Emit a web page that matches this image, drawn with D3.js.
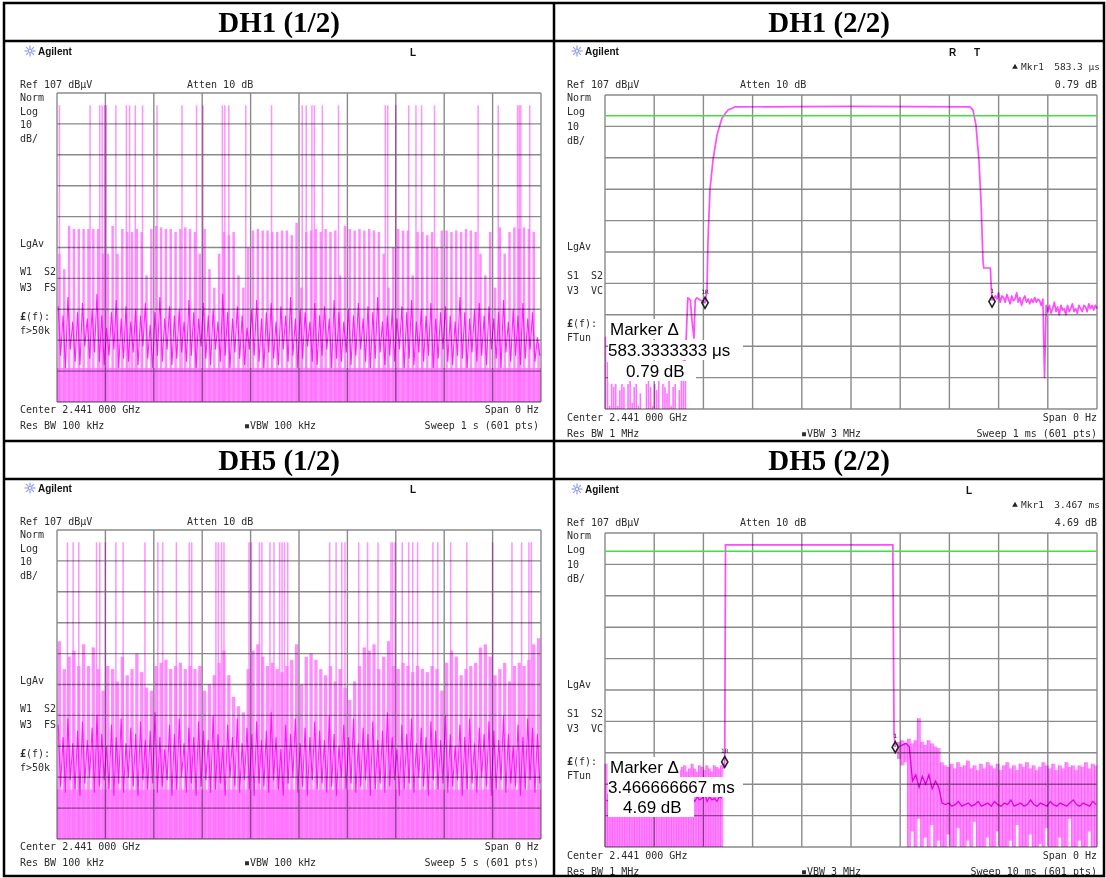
<!DOCTYPE html>
<html><head><meta charset="utf-8">
<script src="https://cdn.jsdelivr.net/npm/d3@7"></script>
<style>
body{margin:0;background:#fff;}
svg{display:block;}
.mono{font-family:"DejaVu Sans Mono",monospace;font-size:10px;fill:#2b2b2b;white-space:pre;}
.title{font-family:"Liberation Serif","Times New Roman",serif;font-weight:bold;font-size:29px;fill:#000;}
.agl{font-family:"Liberation Sans",Arial,sans-serif;font-weight:bold;font-size:10px;fill:#111;}
.big{font-family:"Liberation Sans",Arial,sans-serif;font-size:17px;fill:#000;}
</style></head><body>
<script>
// ---------------- DATA ----------------
const titles = ["DH1 (1/2)", "DH1 (2/2)", "DH5 (1/2)", "DH5 (2/2)"];
const refLevel = 107, dbPerDiv = 10, nDiv = 10, lastPoint = 600;

// DH1 (1/2): sweep 1 s, tall hop spikes (sweep point index)
const dh1aSpikes = [3,41,53,56,59,61,73,86,90,97,106,124,155,173,181,205,208,213,234,266,304,309,316,319,329,349,407,410,420,436,445,452,468,522,547,571,573,575,586];
const dh1aSpikeDb = 103;
// peak level reached in each 6-point bin
const dh1aPeaks = [55,50,64,63,63,63,63,63,63,55, 55,64,55,63,62,62,63,62,48,63,
 64,63.5,63,63,62,63,63.5,63,62,55, 63,50,44,55,62,61,62,48,44,57,
 62.5,63,62.5,62.5,62,62,62.5,62.5,61,65, 44,62,62.5,63,62,63,62,62.5,48,64,
 63,62.5,63,62.5,63,62.5,62,55,44,57, 63,62.5,62.5,48,62,62,61,62,57,62.5,
 62.5,62,62.5,62,63,62.5,62,55,48,62, 44,63.5,55,62,63.5,63,63.5,63,62,26];
// low part of the trace (alternating high / low readings)
const dh1aTrace = [38,22,35,18,41,24,33,20,36,19,39,25,34,21,37,23,42,20,35,19,
 31,22,36,24,40,18,34,21,38,20,33,23,37,19,35,25,39,21,32,18,
 36,22,41,20,34,24,38,19,35,21,37,23,33,20,40,22,36,18,34,25,
 39,21,35,19,37,24,33,20,42,22,36,18,34,23,38,21,35,19,31,24,
 37,22,40,20,34,18,36,23,39,21,33,19,38,24,35,20,41,22,34,18,
 37,21,36,25,33,20,39,19,35,22,38,24,34,18,40,21,36,20,33,23,
 37,19,35,22,39,24,34,20,38,18,36,21,41,23,33,19,35,22,37,20,
 34,24,38,18,36,21,40,19,33,23,37,20,35,22,39,18,34,21,36,24,
 38,20,35,19,33,22,41,21,36,18,34,23,37,20,39,22,35,19,38,24,
 34,21,36,18,40,23,33,20,37,22,35,19,39,21,34,24,36,20,28,22];
const dh1aFloorDb = 18;

// DH5 (1/2): sweep 5 s
const dh5aSpikes = [13,20,27,49,53,60,73,82,109,125,131,148,164,167,197,200,204,207,238,241,251,254,264,269,276,279,282,286,338,346,353,357,374,385,398,414,416,419,428,436,441,447,466,472,488,508,540,564,576,585,588];
const dh5aSpikeDb = 103;
const dh5aPeaks = [71,62,66,68,63,70,63,69,62,55, 63,62,58,66,60,62,67,61,56,55,
 63,64,65,62,63,64,62,63,62,63, 55,57,60,64,68,60,53,50,48,62,
 68,70,66,63,64,62,61,63,65,70, 57,66,67,65,62,60,63,58,62,56,
 52,58,63,69,68,70,62,66,71,63, 62,64,63,61,63,62,61,63,62,55,
 64,68,66,60,62,63,64,69,70,66, 60,62,64,58,63,64,63,65,70,72];
const dh5aTrace = [44,24,40,22,46,26,38,23,42,21,45,25,39,27,43,22,47,24,41,26,
 37,23,44,21,40,25,46,22,38,27,43,24,41,21,45,26,39,23,42,25,
 48,22,40,24,36,26,44,21,41,23,46,27,38,22,43,25,40,21,45,24,
 42,26,39,22,47,23,41,25,37,21,44,27,40,24,46,22,38,26,43,23,
 41,21,45,25,39,24,42,22,48,26,40,23,36,21,44,25,41,27,46,22,
 38,24,43,21,40,26,45,23,42,25,39,22,47,24,41,21,37,27,44,23,
 40,25,46,22,38,24,43,26,41,21,45,23,39,25,42,22,48,24,40,26,
 36,21,44,23,41,25,46,22,38,27,43,24,40,21,45,26,42,23,39,25,
 47,22,41,24,37,26,44,21,40,23,46,25,38,22,43,27,41,24,45,21,
 42,23,39,26,47,22,41,25,37,24,44,21,40,23,46,26,43,22,41,25];
const dh5aFloorDb = 23;

// DH1 (2/2): sweep 1 ms, single slot burst
const dh1bNoise = [30,22,8,15,14,15,8,13,15,14,7,15,16,9,14,15,8,12,7,7,15,16,14,8,15,13,16,7,15,14,12,16,8,14,15,7,13,18,26,20]; // every 2.5 points from 0
const dh1bTraceIdx = [96,99,101,104,106,108.5,110,112,116,119.5,122,124.4,125.6,128,131.7,136.6,142.7,150,158.5,300,445,448.8,452.4,456,458.5,461,462,470,471,472];
const dh1bTraceDb  = [16,29.6,42.4,41.7,35.3,29.6,41.7,42.4,41.7,41.2,40.8,44.9,60.8,76.7,86.3,94.3,99.7,102.2,103.2,103.4,103.2,102.2,97.4,86.3,73.6,53.8,51.9,51.9,46,41.7];
const dh1bTail = [43,42,44,41,43,42.5,41,43.5,42,40.5, 43,41.5,42,44,41,42.5,40,42,43,41,
 42,40.5,42,41,42.5,41,42,41.5,40,42, 17,40,38,40,37.5,39,41,38,39.5,37,
 40,38.5,39,37,40,38,39,40.5,38,39, 37.5,40,39,38,40,39.5,38,40.5,39,40, 38.5,40,39]; // every 2 points from 476
const dh1bMarkers = [122, 472];
const dh1bDisplayLine = 100.4;

// DH5 (2/2): sweep 10 ms, 5-slot burst
const dh5bLeftTop = [33.5,24,26,29,27,30,28,26,29,30, 27,28,30,29,26,28,30,27,29,28,
 26,29,30,28,27,29,28,30,32,33, 31.5,32.5,33,31,32,33.5,32,31,33,32.5, 31.5,33,32,31,33,32.5,32,33]; // every 3 points from 0
const dh5bLeftAvg = [22,21.5,22.5,21,23,22,21.5,22.5,22,21, 23,22.5,21.5,22,21,22.5,23,22,21.5,22,
 22.5,21,22,23,21.5,22,22.5,21,22,23, 22.5,21.5,23,22,24,22.5,21.5,23,22,22.5, 24,21.5,23,22,22.5,21.5,23,22.5];
const dh5bTraceIdx = [144,146,147,351,352.5,354];
const dh5bTraceDb  = [32,34.1,103.2,103.2,42.7,38.8];
const dh5bRightTop = [40.5,41,40,41.5,40,41,48,40.5,39.5,41, 40,39,38.5,34,33,32.5,33.5,32,34,32.5,
 33,34.5,32,33,31.5,33.5,32,34,33,32, 33.5,31.5,33,34,32,33,31.5,33.5,32.5,34,
 32,33,31.5,32.5,34,33,32,33.5,31.5,33, 32,34,32.5,33,31.5,33,32.5,34,32,33.5, 33]; // every 4 points from 357
const dh5bRightBottom = [35,33,34,7,12,7,16,7,10,7, 14,7,9,7,7,11,7,7,13,7, 7,9,7,15,7,7,7,10,7,7,
 12,7,7,7,9,7,14,7,7,7, 11,7,7,8,7,13,7,7,7,10, 7,7,16,7,7,9,7,7,12,7, 7];
const dh5bRightAvg = [39,39.5,40,39,28,30,26,29.5,27,30, 25.5,28,26,21,20.5,21,20,20.5,21.5,20,
 20.5,21,20,20.5,21.5,20,20.5,21,20,21.5, 20.5,20,21,20.5,22,20,20.5,21,20,20.5,
 22,20.5,20,21,20.5,20,21.5,20.5,20,21, 20.5,20,21,22,20.5,20,21,20.5,20,21.5, 20.5];
const dh5bMarkers = [146, 354];
const dh5bDisplayLine = 101.2;

// ---------------- DRAW ----------------
const svg = d3.select("body").append("svg").attr("width",1106).attr("height",878);

const PINK = "#ff8cff", BAR = "#ff70ff", MAG = "#ff00ff";

function screenFrame(g, o){
  const xs = d3.scaleLinear().domain([0,lastPoint]).range([o.gx,o.gx+o.gw]);
  const ys = d3.scaleLinear().domain([refLevel-dbPerDiv*nDiv, refLevel]).range([o.gy+o.gh,o.gy]).clamp(true);
  return {xs,ys};
}
function drawGrid(g, xs, ys){
  const gg = g.append("g").style("mix-blend-mode","multiply");
  const xt = d3.range(0, lastPoint+1, lastPoint/nDiv);
  const yt = d3.range(0, nDiv+1).map(k=>refLevel-k*dbPerDiv);
  gg.selectAll(".vx").data(xt).join("line").attr("x1",d=>xs(d)).attr("x2",d=>xs(d))
    .attr("y1",ys(refLevel)).attr("y2",ys(refLevel-dbPerDiv*nDiv)).attr("stroke","#8a8a8a").attr("stroke-width",1.4);
  gg.selectAll(".hy").data(yt).join("line").attr("y1",d=>ys(d)).attr("y2",d=>ys(d))
    .attr("x1",xs(0)).attr("x2",xs(lastPoint)).attr("stroke","#8a8a8a").attr("stroke-width",1.4);
}
function mono(g,x,y,s,anchor){
  return g.append("text").attr("class","mono").attr("x",x).attr("y",y).attr("dy","0.35em").attr("text-anchor",anchor||"start").text(s);
}
function logo(g,x,y){
  const lg = g.append("g").attr("transform",`translate(${x},${y})`);
  d3.range(8).forEach(k=>{
    const a = k*Math.PI/4;
    lg.append("line").attr("x1",Math.cos(a)*2).attr("y1",Math.sin(a)*2).attr("x2",Math.cos(a)*5.5).attr("y2",Math.sin(a)*5.5)
      .attr("stroke","#8f9fe8").attr("stroke-width",1.2);
  });
  lg.append("circle").attr("r",1.6).attr("fill","none").attr("stroke","#8f9fe8").attr("stroke-width",1);
}
function header(g, x0, y0){
  logo(g, x0+10, y0+51);
  g.append("text").attr("class","agl").attr("x",x0+18).attr("y",y0+51).attr("dy","0.35em").text("Agilent");
}
function leftLabels(g,x,ys,labels){
  labels.forEach((s,i)=>{
    if(s.startsWith("£")){
      const t = g.append("text").attr("class","mono").attr("x",x).attr("y",ys[i]).attr("dy","0.35em");
      t.append("tspan").attr("font-weight","bold").text("£");
      t.append("tspan").text(s.slice(1));
    } else mono(g,x,ys[i],s);
  });
}
function noisePanel(g, o, spikes, spikeDb, peaks, trace, floorDb, barW){
  const {xs,ys} = screenFrame(g,o);
  const bot = ys(refLevel-dbPerDiv*nDiv);
  g.append("rect").attr("x",xs(0)).attr("width",xs(lastPoint)-xs(0)).attr("y",ys(floorDb)).attr("height",bot-ys(floorDb)).attr("fill",PINK);
  g.append("g").selectAll("line").data(peaks).join("line")
    .attr("x1",(d,i)=>xs(i*6+3)).attr("x2",(d,i)=>xs(i*6+3)).attr("y1",bot).attr("y2",d=>ys(d))
    .attr("stroke",BAR).attr("stroke-opacity",0.8).attr("stroke-width",barW);
  g.append("g").selectAll("line").data(spikes).join("line")
    .attr("x1",d=>xs(d)).attr("x2",d=>xs(d)).attr("y1",bot).attr("y2",ys(spikeDb))
    .attr("stroke",BAR).attr("stroke-opacity",0.75).attr("stroke-width",1.5);
  const line = d3.line().x((d,i)=>xs(i*3+1.5)).y(d=>ys(d));
  g.append("path").attr("d",line(trace)).attr("fill","none").attr("stroke",MAG).attr("stroke-opacity",0.85).attr("stroke-width",1.1);
  drawGrid(g,xs,ys);
}

// ---- titles
titles.forEach((t,i)=>{
  svg.append("text").attr("class","title").attr("x",i%2?829:279).attr("y",i<2?22:460)
    .attr("dy","0.35em").attr("text-anchor","middle").text(t);
});

// ---- left panels
function leftPanel(dy, spikes, spikeDb, peaks, trace, floorDb, barW, sweep){
  const g = svg.append("g");
  const o = {gx:57, gy:93+dy, gw:484, gh:309};
  header(g, 20, dy);
  g.append("text").attr("class","agl").attr("x",410).attr("y",52+dy).attr("dy","0.35em").attr("font-size","11px").text("L");
  mono(g,20,84+dy,"Ref 107 dBμV");
  mono(g,187,84+dy,"Atten 10 dB");
  leftLabels(g,20,[97,111,124,138,243,271,287,316,330].map(v=>v+dy),["Norm","Log","10","dB/","LgAv","W1  S2","W3  FS","£(f):","f>50k"]);
  noisePanel(g,o,spikes,spikeDb,peaks,trace,floorDb,barW);
  mono(g,20,409+dy,"Center 2.441 000 GHz");
  mono(g,539,409+dy,"Span 0 Hz","end");
  mono(g,20,425+dy,"Res BW 100 kHz");
  mono(g,280,425+dy,"▪VBW 100 kHz","middle");
  mono(g,539,425+dy,sweep,"end");
}
leftPanel(0, dh1aSpikes, dh1aSpikeDb, dh1aPeaks, dh1aTrace, dh1aFloorDb, 2.5, "Sweep 1 s (601 pts)");
leftPanel(437, dh5aSpikes, dh5aSpikeDb, dh5aPeaks, dh5aTrace, dh5aFloorDb, 3.3, "Sweep 5 s (601 pts)");

// ---- right panels common
function rightFrame(dy, flags, mkrVal, mkrDb, sweep){
  const g = svg.append("g");
  header(g, 567, dy);
  flags.forEach(f=>g.append("text").attr("class","agl").attr("x",f[0]).attr("y",52+dy).attr("dy","0.35em").attr("font-size","11px").text(f[1]));
  g.append("path").attr("d",d3.symbol(d3.symbolTriangle,14)()).attr("transform",`translate(1015,${67+dy})`).attr("fill","#222");
  mono(g,1021,67+dy,"Mkr1").style("font-size","9.5px");
  mono(g,1100,67+dy,mkrVal,"end").style("font-size","9.5px");
  mono(g,567,84+dy,"Ref 107 dBμV");
  mono(g,740,84+dy,"Atten 10 dB");
  mono(g,1097,84+dy,mkrDb,"end");
  leftLabels(g,567,[97,111,126,140,246,275,290,323,337].map(v=>v+dy),["Norm","Log","10","dB/","LgAv","S1  S2","V3  VC","£(f):","FTun"]);
  mono(g,567,417+dy,"Center 2.441 000 GHz");
  mono(g,1097,417+dy,"Span 0 Hz","end");
  mono(g,567,433+dy,"Res BW 1 MHz");
  mono(g,831,433+dy,"▪VBW 3 MHz","middle");
  mono(g,1097,433+dy,sweep,"end");
  return g;
}
function markerBox(g, dy, lines){
  lines.forEach(l=>{
    g.append("rect").attr("x",608).attr("y",l[2]-10+dy).attr("width",l[3]-608).attr("height",20).attr("fill","#fff");
  });
  lines.forEach(l=>{
    g.append("text").attr("class","big").attr("x",l[1]).attr("y",l[2]+dy).attr("dy","0.35em").text(l[0]);
  });
}
function markerSym(g, xs, ys, idx, db, label){
  g.append("path").attr("d",d3.symbol(d3.symbolDiamond,34)()).attr("transform",`translate(${xs(idx)},${ys(db)})`)
    .attr("fill","none").attr("stroke","#222").attr("stroke-width",1.6);
  g.append("text").attr("x",xs(idx)).attr("y",ys(db)-9).attr("text-anchor","middle").attr("font-family","DejaVu Sans Mono").attr("font-size","6px").attr("fill","#222").text(label);
}

// ---- Panel B: DH1 (2/2)
{
  const dy = 0;
  const g = rightFrame(dy, [[949,"R"],[974,"T"]], "583.3 μs", "0.79 dB", "Sweep 1 ms (601 pts)");
  const o = {gx:605, gy:95+dy, gw:492, gh:314};
  const {xs,ys} = screenFrame(g,o);
  const bot = ys(refLevel-dbPerDiv*nDiv);
  g.append("g").selectAll("line").data(dh1bNoise).join("line")
    .attr("x1",(d,i)=>xs(i*2.5+0.6)).attr("x2",(d,i)=>xs(i*2.5+0.6)).attr("y1",bot).attr("y2",d=>ys(d))
    .attr("stroke","#ff5cff").attr("stroke-opacity",0.85).attr("stroke-width",1.6);
  const pts = dh1bTraceIdx.map((d,i)=>[d,dh1bTraceDb[i]]).concat(dh1bTail.map((d,i)=>[476+i*2,d]));
  g.append("path").attr("d",d3.line().x(d=>xs(d[0])).y(d=>ys(d[1]))(pts)).attr("fill","none").attr("stroke","#ff4cff").attr("stroke-width",1.7).attr("stroke-linejoin","round");
  drawGrid(g,xs,ys);
  g.append("line").attr("x1",xs(0)).attr("x2",xs(lastPoint)).attr("y1",ys(dh1bDisplayLine)).attr("y2",ys(dh1bDisplayLine)).attr("stroke","#3fe03f").attr("stroke-width",1.6);
  markerSym(g,xs,ys,dh1bMarkers[0],40.8,"1R");
  markerSym(g,xs,ys,dh1bMarkers[1],41.2,"1");
  markerBox(g, dy, [["Marker Δ",610,329,680],["583.3333333 μs",608,350,743],["0.79 dB",626,371,696]]);
}

// ---- Panel D: DH5 (2/2)
{
  const dy = 438;
  const g = rightFrame(dy, [[966,"L"]], "3.467 ms", "4.69 dB", "Sweep 10 ms (601 pts)");
  const o = {gx:605, gy:95+dy, gw:492, gh:314};
  const {xs,ys} = screenFrame(g,o);
  const bot = ys(refLevel-dbPerDiv*nDiv);
  g.append("g").selectAll("rect").data(dh5bLeftTop).join("rect")
    .attr("x",(d,i)=>xs(i*3)).attr("width",xs(3)-xs(0)+0.2).attr("y",d=>ys(d)).attr("height",d=>bot-ys(d)).attr("fill",PINK);
  g.append("g").selectAll("line").data(dh5bLeftTop).join("line")
    .attr("x1",(d,i)=>xs(i*3)).attr("x2",(d,i)=>xs(i*3)).attr("y1",bot).attr("y2",d=>ys(d)).attr("stroke","#ff55ff").attr("stroke-width",0.9);
  g.append("g").selectAll("rect").data(dh5bRightTop).join("rect")
    .attr("x",(d,i)=>xs(357+i*4)).attr("width",(d,i)=>xs(Math.min(lastPoint,361+i*4))-xs(357+i*4)+0.2)
    .attr("y",d=>ys(d)).attr("height",(d,i)=>ys(dh5bRightBottom[i])-ys(d)).attr("fill",PINK);
  g.append("g").selectAll("line").data(dh5bRightTop).join("line")
    .attr("x1",(d,i)=>xs(357+i*4)).attr("x2",(d,i)=>xs(357+i*4)).attr("y1",(d,i)=>ys(dh5bRightBottom[i])).attr("y2",d=>ys(d)).attr("stroke","#ff55ff").attr("stroke-width",0.9);
  g.append("path").attr("d",d3.line().x((d,i)=>xs(i*3+1.5)).y(d=>ys(d))(dh5bLeftAvg)).attr("fill","none").attr("stroke","#e800e8").attr("stroke-width",1.2);
  g.append("path").attr("d",d3.line().x((d,i)=>xs(357+i*4+2)).y(d=>ys(d))(dh5bRightAvg)).attr("fill","none").attr("stroke","#e000e0").attr("stroke-width",1.3);
  const pts = dh5bTraceIdx.map((d,i)=>[d,dh5bTraceDb[i]]);
  g.append("path").attr("d",d3.line().x(d=>xs(d[0])).y(d=>ys(d[1]))(pts)).attr("fill","none").attr("stroke","#ff4cff").attr("stroke-width",1.7);
  drawGrid(g,xs,ys);
  g.append("line").attr("x1",xs(0)).attr("x2",xs(lastPoint)).attr("y1",ys(dh5bDisplayLine)).attr("y2",ys(dh5bDisplayLine)).attr("stroke","#3fe03f").attr("stroke-width",1.6);
  markerSym(g,xs,ys,dh5bMarkers[0],34.1,"1R");
  markerSym(g,xs,ys,dh5bMarkers[1],38.8,"1");
  markerBox(g, dy, [["Marker Δ",610,329,680],["3.466666667 ms",608,349,743],["4.69 dB",623,369,694]]);
}

// ---- table lines (on top)
const T = svg.append("g").attr("stroke","#000").attr("stroke-width",2.5);
T.append("rect").attr("x",4).attr("y",3).attr("width",1100).attr("height",873).attr("fill","none");
[41,441,479].forEach(y=>T.append("line").attr("x1",4).attr("x2",1104).attr("y1",y).attr("y2",y));
T.append("line").attr("x1",554).attr("x2",554).attr("y1",3).attr("y2",876);
</script>
</body></html>
